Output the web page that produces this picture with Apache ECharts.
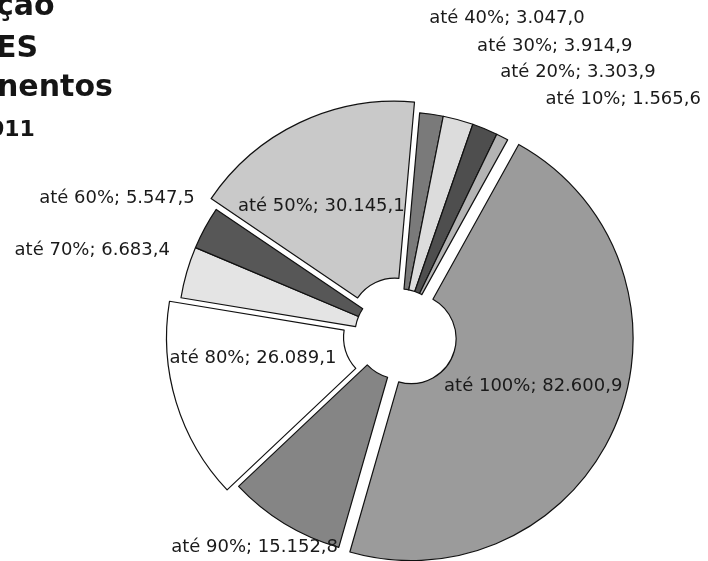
<!DOCTYPE html>
<html>
<head>
<meta charset="utf-8">
<script src="https://cdn.jsdelivr.net/npm/echarts@6/dist/echarts.min.js"></script>
<style>
  html, body { margin: 0; padding: 0; background: #fff; }
  #main { width: 708px; height: 561px; }
</style>
</head>
<body>
<div id="main"></div>
<script>
// faixas e valores (ordem horária a partir de "até 100%")
var categories = ['até 100%', 'até 90%', 'até 80%', 'até 70%', 'até 60%', 'até 50%', 'até 40%', 'até 30%', 'até 20%', 'até 10%'];
var values = [82600.9, 15152.8, 26089.1, 6683.4, 5547.5, 30145.1, 3047.0, 3914.9, 3303.9, 1565.6];
var exploded = ['até 100%', 'até 80%', 'até 50%'];
var insideLabels = ['até 100%', 'até 80%', 'até 50%'];
var titleLines = ['ção', 'ES', 'nentos', '011'];

var colors = ['#9b9b9b', '#858585', '#ffffff', '#e4e4e4', '#575757', '#c9c9c9', '#7a7a7a', '#dcdcdc', '#4e4e4e', '#b4b4b4'];
// comprimento das linhas (ocultas) que posicionam os rótulos externos
var lineLen = { 'até 90%': [28, -73], 'até 70%': [80, -65], 'até 60%': [63, -50], 'até 40%': [97, -21], 'até 30%': [76, -6], 'até 20%': [61, -13], 'até 10%': [42, 19] };
var nudge = { 'até 100%': [-4, -5], 'até 80%': [-5, -19], 'até 50%': [-15, 6] };

function fmt(v) {
    var parts = v.toFixed(1).split('.');
    return parts[0].replace(/\B(?=(\d{3})+(?!\d))/g, '.') + ',' + parts[1];
}

var myChart = echarts.init(document.getElementById('main'));

var pieData = categories.map(function (name, i) {
    var item = {
        name: name,
        value: values[i],
        selected: exploded.indexOf(name) >= 0,
        itemStyle: { color: colors[i] }
    };
    if (insideLabels.indexOf(name) >= 0) {
        item.label = { position: 'inside' };
    } else {
        item.labelLine = { length: lineLen[name][0], length2: lineLen[name][1] };
    }
    return item;
});

myChart.setOption({
    backgroundColor: '#fff',
    animation: false,
    graphic: [
        { type: 'text', x: -4, y: 7, style: { text: titleLines[0], font: 'bold 30px "DejaVu Sans"', fill: '#151515', verticalAlign: 'middle' } },
        { type: 'text', x: -4, y: 49, style: { text: titleLines[1], font: 'bold 30px "DejaVu Sans"', fill: '#151515', verticalAlign: 'middle' } },
        { type: 'text', x: -3, y: 88, style: { text: titleLines[2], font: 'bold 30px "DejaVu Sans"', fill: '#151515', verticalAlign: 'middle' } },
        { type: 'text', x: -11, y: 130, style: { text: titleLines[3], font: 'bold 22px "DejaVu Sans"', fill: '#151515', verticalAlign: 'middle' } }
    ],
    series: [{
        type: 'pie',
        center: [400, 334],
        radius: [45, 222],
        startAngle: 61,
        clockwise: true,
        avoidLabelOverlap: false,
        selectedMode: 'multiple',
        selectedOffset: 12,
        itemStyle: { borderColor: '#111', borderWidth: 1.2 },
        emphasis: { disabled: true },
        label: {
            show: true,
            position: 'outside',
            color: '#1a1a1a',
            fontFamily: 'DejaVu Sans',
            fontSize: 18,
            distanceToLabelLine: 5,
            formatter: function (p) { return p.name + '; ' + fmt(p.value); }
        },
        labelLine: { show: false },
        labelLayout: function (p) {
            var n = nudge[categories[p.dataIndex]];
            return n ? { dx: n[0], dy: n[1] } : {};
        },
        data: pieData
    }]
});
</script>
</body>
</html>
